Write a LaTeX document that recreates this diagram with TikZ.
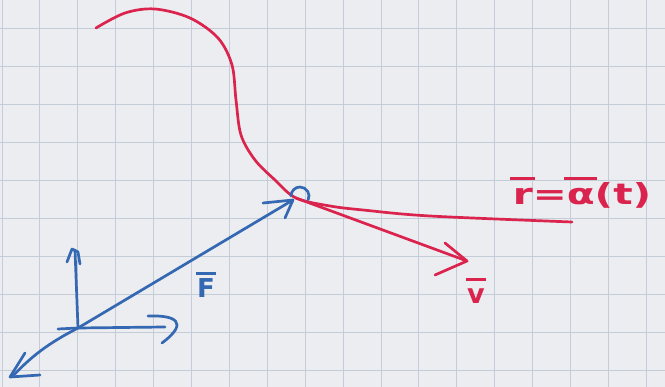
\documentclass[tikz,border=0pt]{standalone}
\usepackage{fontspec}
\setsansfont{DejaVu Sans}
\newcommand\ovl[2][0.85em]{\setbox0\hbox{#2}\rlap{\kern-0.06em\rule[#1]{\dimexpr\wd0+0.12em\relax}{0.11em}}\box0}
\begin{document}
\begin{tikzpicture}[x=1pt,y=-1pt,line cap=round,line join=round,
  gridline/.style={draw=gridc,line width=0.9pt},
  redpen/.style={draw=penred,line width=2.7pt},
  bluepen/.style={draw=penblue,line width=2.7pt},
  lab/.style={inner sep=0pt,font=\sffamily\bfseries\fontsize{#1}{#1}\selectfont}]
\definecolor{paper}{RGB}{236,237,240}
\definecolor{gridc}{RGB}{196,204,216}
\definecolor{penred}{RGB}{218,36,78}
\definecolor{penblue}{RGB}{52,104,178}
\fill[paper] (0,0) rectangle (665,387);
\useasboundingbox (0,0) rectangle (665,387);
% grid
\foreach \k in {0,...,17} \draw[gridline] ({2+37.9*\k},0) -- ({2+37.9*\k},387);
\foreach \k in {0,...,9} \draw[gridline] (0,{28+38*\k}) -- (665,{28+38*\k});
% coordinates
\coordinate (P) at (296,198);
\coordinate (O) at (78,328);
\coordinate (Ftip) at (293,200);
\coordinate (Vtip) at (467,261);
\coordinate (Rend) at (572,222);
% red curve r = alpha(t)
\draw[redpen] plot[smooth,tension=0.55] coordinates {(96,28) (125,13) (155,9) (190,18) (218,38) (232,65) (236,100) (241,135) (255,160) (275,180) (P) (330,206) (363,210) (430,216) (Rend)};
% velocity vector
\draw[redpen] (P) -- (Vtip);
\draw[redpen] (445,243) -- (Vtip) -- (435,275);
% blue force and axes
\draw[bluepen] (12,377) .. controls (35,352) and (55,340) .. (O) -- (Ftip);
\draw[bluepen] (263,203) -- (Ftip) -- (285,218);
\draw[bluepen] (291,196) arc[start angle=180,end angle=385,radius=9];
\draw[bluepen] (O) -- (75,250);
\draw[bluepen] (67,262) -- (72,249) -- (78,252) -- (80,264);
\draw[bluepen] (58,329) -- (O) -- (165,327);
\draw[bluepen] (148,316) .. controls (175,315) and (190,322) .. (162,343);
\draw[bluepen] (25,353) -- (10,377) -- (40,375);
% labels
\node[lab=26,text=penblue,anchor=base] (F) at (206,298) {\ovl[0.9em]{F}};
\node[lab=27,text=penred,anchor=base] (v) at (476,304) {\ovl[0.86em]{v}};
\node[lab=29,text=penred,anchor=base,xscale=1.4] (r) at (582,205) {\ovl{r}=\ovl{α}(t)};
\end{tikzpicture}
\end{document}
